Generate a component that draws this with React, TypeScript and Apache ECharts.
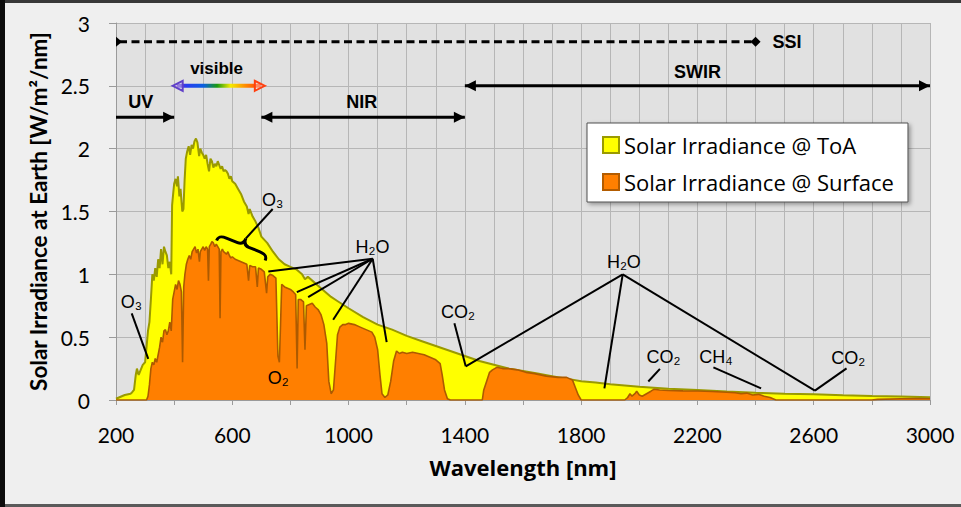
import React, { useEffect, useRef } from "react";
import * as echarts from "echarts";

// ---------- data ----------
const toaWavelength = [200,230,250,255,262,268,272,278,285,292,300,305,310,315,320,325,330,335,340,345,350,355,360,365,370,375,380,385,390,393,397,400,405,410,413,418,422,428,432,436,440,445,450,455,460,465,470,475,480,486,490,495,500,505,510,515,520,525,530,535,540,545,550,555,560,565,570,575,580,585,590,595,600,610,620,630,640,650,656,660,670,680,690,700,720,740,760,780,800,820,840,850,860,880,900,920,940,960,980,1000,1050,1100,1150,1200,1250,1300,1350,1400,1450,1500,1550,1600,1650,1700,1750,1800,1850,1900,1950,2000,2100,2200,2300,2400,2500,2600,2700,2800,2900,3000];
const toaIrradiance = [0.01,0.04,0.05,0.06,0.08,0.2,0.25,0.2,0.24,0.28,0.3,0.42,0.55,0.62,0.8,1.0,0.95,1.05,0.98,1.12,1.05,1.2,1.08,1.22,1.18,1.15,1.05,1.1,1.0,1.55,1.65,1.72,1.76,1.7,1.78,1.62,1.68,1.5,1.52,1.75,1.92,1.98,2.02,1.95,2.03,2.0,2.06,2.08,2.05,1.94,2.0,1.97,1.95,1.92,1.95,1.88,1.82,1.92,1.9,1.85,1.88,1.86,1.9,1.87,1.84,1.86,1.82,1.83,1.82,1.8,1.76,1.78,1.74,1.72,1.68,1.64,1.58,1.54,1.48,1.52,1.46,1.42,1.37,1.3,1.25,1.18,1.12,1.08,1.06,1.04,1.0,0.96,0.98,0.94,0.9,0.86,0.82,0.79,0.76,0.73,0.66,0.6,0.56,0.51,0.47,0.43,0.39,0.35,0.31,0.28,0.25,0.23,0.21,0.19,0.17,0.15,0.14,0.125,0.115,0.105,0.09,0.08,0.068,0.058,0.05,0.045,0.038,0.032,0.027,0.022];

const surfaceWavelength = [200,300,305,310,315,320,325,330,335,340,345,350,355,360,365,370,375,380,385,390,395,400,405,410,415,420,425,429,433,437,442,447,452,457,462,467,472,477,482,487,490,495,500,505,510,515,518,521,526,530,535,540,545,550,555,558,561,566,570,575,580,585,590,595,600,610,620,630,640,650,656,660,670,680,686,690,700,710,718,722,730,740,750,757,762,766,770,780,790,800,810,818,823,827,835,845,850,855,865,875,885,895,905,915,925,932,940,948,955,962,970,980,990,1000,1020,1040,1060,1080,1090,1100,1108,1115,1125,1135,1145,1155,1165,1175,1185,1200,1220,1240,1260,1280,1300,1315,1322,1330,1340,1350,1460,1465,1475,1485,1495,1510,1530,1550,1580,1610,1640,1680,1720,1750,1770,1780,1790,1800,1950,1960,1968,1975,1985,1991,2000,2010,2025,2040,2050,2070,2100,2150,2200,2250,2300,2330,2350,2370,2390,2410,2430,2450,2470,2800,2820,2900,2950,3000];
const surfaceIrradiance = [0,0,0,0.03,0.12,0.25,0.3,0.28,0.33,0.3,0.36,0.42,0.5,0.46,0.55,0.56,0.52,0.55,0.62,0.55,0.8,0.86,0.92,0.88,0.95,0.92,0.86,0.3,0.9,1.0,1.08,1.12,1.15,1.12,1.18,1.2,1.22,1.17,1.2,1.1,1.18,1.2,1.22,1.19,1.22,1.2,0.95,1.22,1.24,1.26,1.25,1.22,1.24,1.22,1.2,0.65,1.18,1.2,1.18,1.17,1.16,1.18,1.15,1.13,1.14,1.12,1.11,1.1,1.09,1.08,0.95,1.07,1.06,1.06,0.9,1.05,1.04,1.02,0.85,0.98,1.0,0.99,0.97,0.35,0.3,0.6,0.92,0.9,0.89,0.88,0.86,0.84,0.25,0.8,0.8,0.78,0.4,0.75,0.76,0.77,0.74,0.72,0.68,0.6,0.45,0.15,0.05,0.08,0.3,0.52,0.58,0.6,0.6,0.61,0.6,0.58,0.56,0.54,0.5,0.4,0.2,0.05,0.02,0.04,0.15,0.31,0.39,0.37,0.38,0.37,0.38,0.37,0.36,0.34,0.32,0.29,0.2,0.08,0.01,0,0,0.08,0.15,0.22,0.24,0.26,0.25,0.25,0.24,0.22,0.21,0.19,0.18,0.18,0.16,0.1,0.04,0,0,0.02,0.05,0.03,0.05,0.07,0.04,0.03,0.05,0.07,0.085,0.08,0.075,0.073,0.072,0.068,0.062,0.058,0.05,0.055,0.04,0.045,0.03,0.02,0,0,0.005,0.01,0.012,0.01];

const seriesNames = ["Solar Irradiance @ ToA", "Solar Irradiance @ Surface"];

// spectral band arrows (data coordinates)
const bandNames = ["UV", "visible", "NIR", "SWIR"];
const bandStart = [200, 395, 700, 1400];
const bandEnd = [400, 712, 1400, 3000];
const bandLevel = [2.25, 2.5, 2.25, 2.5];
const bandLabelX = [285, 546, 1045, 2200];
const bandLabelY = [2.37, 2.64, 2.37, 2.61];

// SSI dashed range
const ssiStart = 200;
const ssiEnd = 2400;
const ssiLevel = 2.85;

// gas absorption labels
const gasText = ["O₃", "O₃", "H₂O", "O₂", "CO₂", "H₂O", "CO₂", "CH₄", "CO₂"];
const gasLabelX = [739, 253, 1082, 758, 1376, 1947, 2083, 2264, 2719];
const gasLabelY = [1.59, 0.776, 1.217, 0.176, 0.698, 1.097, 0.346, 0.346, 0.332];

// leader segments: [x1, y1, x2, y2]
const leaderSegments = [
  [254, 0.69, 311, 0.327],
  [1083, 1.124, 724, 1.022],
  [1083, 1.124, 822, 0.858],
  [1083, 1.124, 861, 0.818],
  [1083, 1.124, 947, 0.638],
  [1083, 1.124, 1131, 0.46],
  [1364, 0.61, 1403, 0.268],
  [1943, 1.0, 1403, 0.268],
  [1943, 1.0, 1880, 0.093],
  [1943, 1.0, 2604, 0.075],
  [2604, 0.075, 2713, 0.252],
  [2071, 0.248, 2031, 0.147],
  [2255, 0.26, 2419, 0.093],
];
// ozone brace (left tip, right tip) and its label leader start
const braceLeft = [546, 1.269];
const braceRight = [713, 1.11];
const braceLeaderStart = [739, 1.52];

const BRACE_LEN = 52;
echarts.graphic.registerShape(
  "brace",
  echarts.graphic.extendPath(
    "M0,0 C0,-5 3,-6 8,-6 L20,-6 C24,-6 26,-8 26,-13 C26,-8 28,-6 32,-6 L44,-6 C49,-6 52,-5 52,0",
    {}
  ) as any
);

const CAL = "Lato";
const OPEN = "'Open Sans'";
const ARIAL = "'Liberation Sans', Arial, sans-serif";

export default function App() {
  const ref = useRef<HTMLDivElement>(null);

  useEffect(() => {
    const el = ref.current!;
    const chart = echarts.init(el, undefined, { renderer: "svg" });
    const gridColor = "#b6b6b6";

    const option: any = {
      animation: false,
      backgroundColor: "#efefef",
      grid: {
        left: 116,
        right: 31,
        top: 23,
        bottom: 107,
        show: true,
        backgroundColor: "#e1e1e1",
        borderWidth: 0,
      },
      legend: {
        orient: "vertical",
        left: 587,
        top: 123,
        backgroundColor: "#ffffff",
        borderColor: "#505050",
        borderWidth: 1,
        shadowBlur: 4,
        shadowColor: "rgba(0,0,0,0.35)",
        shadowOffsetX: 2,
        shadowOffsetY: 2,
        padding: [11, 14, 9, 15],
        itemGap: 15,
        itemWidth: 16,
        itemHeight: 16,
        textStyle: { fontFamily: OPEN, fontSize: 22, color: "#000" },
        data: [
          { name: seriesNames[0], icon: "rect", itemStyle: { color: "#ffff00", borderColor: "#9a9a00", borderWidth: 2 } },
          { name: seriesNames[1], icon: "rect", itemStyle: { color: "#ff7f00", borderColor: "#b35c00", borderWidth: 2 } },
        ],
      },
      xAxis: {
        type: "value",
        min: 200,
        max: 3000,
        interval: 200,
        name: "Wavelength [nm]",
        nameLocation: "middle",
        nameGap: 56,
        nameTextStyle: { fontFamily: OPEN, fontWeight: "bold", fontSize: 22, color: "#000" },
        axisLine: { show: true, onZero: false, lineStyle: { color: "#9a9a9a", width: 1 } },
        axisTick: { show: true, length: 5, lineStyle: { color: "#9a9a9a" } },
        axisLabel: {
          fontFamily: CAL,
          fontSize: 21,
          color: "#000",
          margin: 24,
          formatter: (v: number) => ((v - 200) % 400 === 0 ? String(v) : ""),
        },
        splitLine: { show: true, lineStyle: { color: gridColor, width: 1 } },
        minorTick: { show: false, splitNumber: 2 },
        minorSplitLine: { show: true, lineStyle: { color: gridColor, width: 1 } },
      },
      yAxis: {
        type: "value",
        min: 0,
        max: 3,
        interval: 0.5,
        name: "Solar Irradiance at Earth [W/m²/nm]",
        nameLocation: "middle",
        nameGap: 62,
        nameTextStyle: { fontFamily: CAL, fontWeight: "bold", fontSize: 22.5, color: "#000" },
        axisLine: { show: true, lineStyle: { color: "#9a9a9a", width: 1 } },
        axisTick: { show: true, length: 7, lineStyle: { color: "#9a9a9a" } },
        axisLabel: { fontFamily: CAL, fontSize: 21, color: "#000", margin: 26 },
        splitLine: { show: true, lineStyle: { color: gridColor, width: 1 } },
      },
      series: [
        {
          name: seriesNames[0],
          type: "line",
          data: toaWavelength.map((w, i) => [w, toaIrradiance[i]]),
          symbol: "none",
          showSymbol: false,
          color: "#ffff00",
          lineStyle: { color: "#9a9a00", width: 2 },
          areaStyle: { color: "#ffff00", opacity: 1 },
          silent: true,
          z: 2,
        },
        {
          name: seriesNames[1],
          type: "line",
          data: surfaceWavelength.map((w, i) => [w, surfaceIrradiance[i]]),
          symbol: "none",
          showSymbol: false,
          color: "#ff7f00",
          lineStyle: { color: "#ad5a00", width: 1.6 },
          areaStyle: { color: "#ff7f00", opacity: 1 },
          silent: true,
          z: 3,
        },
      ],
    };
    chart.setOption(option);

    const P = (x: number, y: number) =>
      chart.convertToPixel({ xAxisIndex: 0, yAxisIndex: 0 }, [x, y]) as number[];

    const g: any[] = [];
    const txt = (x: number, y: number, text: string, font: string, align = "center") => ({
      type: "text",
      x,
      y,
      z: 100,
      style: {
        text,
        font,
        fill: "#000",
        align,
        textAlign: align,
        verticalAlign: "middle",
        textVerticalAlign: "middle",
      },
    });
    const line = (x1: number, y1: number, x2: number, y2: number, w = 2, dash?: number[]) => ({
      type: "line",
      z: 100,
      shape: { x1, y1, x2, y2 },
      style: { stroke: "#000", lineWidth: w, lineDash: dash },
    });
    const head = (tx: number, ty: number, dir: number, color = "#000", filled = true, len = 11, hw = 5.5) => ({
      type: "polygon",
      z: 101,
      shape: { points: [[tx, ty], [tx - dir * len, ty - hw], [tx - dir * len, ty + hw]] },
      style: filled ? { fill: color } : { fill: "rgba(255,255,255,0.35)", stroke: color, lineWidth: 2 },
    });

    // band arrows
    const boldFont = `bold 18px ${ARIAL}`;
    for (let i = 0; i < bandNames.length; i++) {
      const a = P(bandStart[i], bandLevel[i]);
      const b = P(bandEnd[i], bandLevel[i]);
      const lp = P(bandLabelX[i], bandLabelY[i]);
      if (bandNames[i] === "visible") {
        g.push({
          type: "rect",
          z: 100,
          shape: { x: a[0] + 4, y: a[1] - 2, width: b[0] - a[0] - 8, height: 4 },
          style: {
            fill: new echarts.graphic.LinearGradient(0, 0, 1, 0, [
              { offset: 0, color: "#6a35c8" },
              { offset: 0.12, color: "#2a3cf0" },
              { offset: 0.32, color: "#0a60e0" },
              { offset: 0.48, color: "#1a9a10" },
              { offset: 0.64, color: "#f4ec00" },
              { offset: 0.82, color: "#ff8a00" },
              { offset: 1, color: "#ff3a10" },
            ]),
          },
        });
        g.push(head(a[0], a[1], -1, "#6040c8", false, 10, 5));
        g.push(head(b[0], b[1], 1, "#ff4010", false, 10, 5));
        g.push(txt(lp[0], lp[1], "visible", `bold 17px ${ARIAL}`));
      } else {
        g.push(line(a[0], a[1], b[0], b[1], 3));
        g.push(head(b[0], b[1], 1));
        if (bandNames[i] !== "UV") g.push(head(a[0], a[1], -1));
        g.push(txt(lp[0], lp[1], bandNames[i], boldFont));
      }
    }

    // SSI
    {
      const a = P(ssiStart, ssiLevel);
      const b = P(ssiEnd, ssiLevel);
      g.push(line(a[0] + 3, a[1], b[0] - 4, b[1], 3, [8, 4.5]));
      g.push({
        type: "polygon",
        z: 101,
        shape: { points: [[a[0], a[1] - 5], [a[0] + 6, a[1]], [a[0], a[1] + 5]] },
        style: { fill: "#000" },
      });
      g.push({
        type: "polygon",
        z: 101,
        shape: { points: [[b[0] - 5, b[1]], [b[0], b[1] - 5], [b[0] + 5, b[1]], [b[0], b[1] + 5]] },
        style: { fill: "#000" },
      });
      g.push(txt(b[0] + 17, b[1], "SSI", boldFont, "left"));
    }

    // gas labels and leaders
    const gasFont = `18px ${ARIAL}`;
    for (let i = 0; i < gasText.length; i++) {
      const p = P(gasLabelX[i], gasLabelY[i]);
      g.push(txt(p[0], p[1], gasText[i], gasFont));
    }
    for (const s of leaderSegments) {
      const a = P(s[0], s[1]);
      const b = P(s[2], s[3]);
      g.push(line(a[0], a[1], b[0], b[1], 2));
    }

    // ozone brace
    {
      const l = P(braceLeft[0], braceLeft[1]);
      const r = P(braceRight[0], braceRight[1]);
      const dx = r[0] - l[0];
      const dy = r[1] - l[1];
      const len = Math.sqrt(dx * dx + dy * dy);
      const ang = Math.atan2(dy, dx);
      const s = len / BRACE_LEN;
      g.push({
        type: "brace",
        z: 101,
        x: l[0],
        y: l[1],
        rotation: -ang,
        scaleX: s,
        scaleY: 1,
        style: { stroke: "#000", lineWidth: 3, fill: null },
      });
      const px = 26 * s, py = -13;
      const peak = [l[0] + px * Math.cos(ang) - py * Math.sin(ang), l[1] + px * Math.sin(ang) + py * Math.cos(ang)];
      const st = P(braceLeaderStart[0], braceLeaderStart[1]);
      g.push(line(st[0], st[1], peak[0], peak[1], 2));
    }

    // outer frame
    g.push({ type: "rect", z: 200, shape: { x: 0, y: 0, width: 961, height: 3 }, style: { fill: "#383838" } });
    g.push({ type: "rect", z: 200, shape: { x: 0, y: 504, width: 961, height: 3 }, style: { fill: "#5a5a5a" } });
    g.push({ type: "rect", z: 201, shape: { x: 0, y: 0, width: 5, height: 507 }, style: { fill: "#0c0c0c" } });

    chart.setOption({ graphic: g });

    return () => chart.dispose();
  }, []);

  return (
    <div
      ref={ref}
      style={{ position: "fixed", left: 0, top: 0, width: 961, height: 507, background: "#efefef" }}
    />
  );
}
